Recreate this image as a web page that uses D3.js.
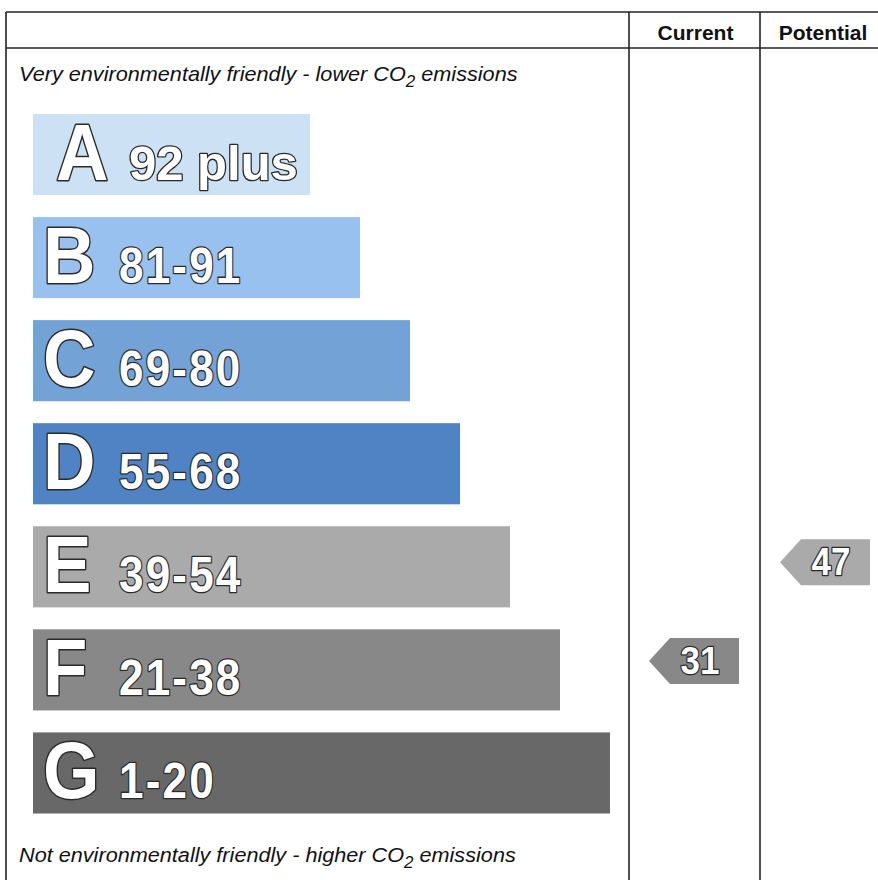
<!DOCTYPE html>
<html>
<head>
<meta charset="utf-8">
<script src="https://cdn.jsdelivr.net/npm/d3@7"></script>
<style>
  html, body { margin: 0; padding: 0; background: #fff; }
  svg { display: block; }
</style>
</head>
<body>
<svg id="chart" width="878" height="880"></svg>
<script>
// ---- data ----
const ratings = ["A", "B", "C", "D", "E", "F", "G"];
const rangeLabels = ["92 plus", "81-91", "69-80", "55-68", "39-54", "21-38", "1-20"];
const rangeLow = [92, 81, 69, 55, 39, 21, 1];
const rangeHigh = [100, 91, 80, 68, 54, 38, 20];
const bandColors = ["#cce1f4", "#99c1ef", "#72a2d6", "#4f83c3", "#aaaaaa", "#888888", "#686868"];
const columnHeaders = ["Current", "Potential"];
const scoreValues = [31, 47];
const topCaption = ["Very environmentally friendly - lower CO", "2", " emissions"];
const bottomCaption = ["Not environmentally friendly - higher CO", "2", " emissions"];

// ---- layout ----
const svg = d3.select("#chart");
const FONT = "'Liberation Sans', Arial, Helvetica, sans-serif";
const frame = { left: 6, top: 12, header: 48, colA: 629, colB: 760, colEnd: 891, bottom: 880 };

const y = d3.scaleBand().domain(ratings).range([114, 813.5]).paddingInner(0.213).paddingOuter(0);
const barRight = d3.scaleLinear().domain([0, ratings.length - 1]).range([310, 610]);
const barLeft = 33;

const bands = ratings.map((r, i) => ({
  rating: r, label: rangeLabels[i], lo: rangeLow[i], hi: rangeHigh[i], color: bandColors[i], i
}));

// ---- frame lines ----
const lineColor = "#222";
const lines = [
  [frame.left, frame.top, frame.colEnd, frame.top],
  [frame.left, frame.header, frame.colEnd, frame.header],
  [frame.left, frame.top, frame.left, frame.bottom],
  [frame.colA, frame.top, frame.colA, frame.bottom],
  [frame.colB, frame.top, frame.colB, frame.bottom],
  [frame.colEnd, frame.top, frame.colEnd, frame.bottom]
];
svg.append("g").selectAll("line").data(lines).join("line")
  .attr("x1", d => d[0]).attr("y1", d => d[1]).attr("x2", d => d[2]).attr("y2", d => d[3])
  .attr("stroke", lineColor).attr("stroke-width", 1.6);

// ---- headers ----
const colCenters = [(frame.colA + frame.colB) / 2, (frame.colB + frame.colEnd) / 2];
svg.append("g").selectAll("text").data(columnHeaders).join("text")
  .attr("x", (d, i) => colCenters[i] + (i === 0 ? 1 : -2.5))
  .attr("y", 40)
  .attr("text-anchor", "middle")
  .attr("font-family", FONT).attr("font-weight", "bold").attr("font-size", 21)
  .attr("fill", "#111")
  .text(d => d);

// ---- captions ----
function caption(parts, yy, targetW) {
  const g0 = svg.append("g");
  const t = g0.append("text").attr("x", 0).attr("y", 0)
    .attr("font-family", FONT).attr("font-style", "italic").attr("font-size", 20.5).attr("fill", "#111");
  t.append("tspan").text(parts[0]);
  t.append("tspan").attr("dy", 6).attr("font-size", 16).text(parts[1]);
  t.append("tspan").attr("dy", -6).text(parts[2]);
  const w = t.node().getBBox().width;
  g0.attr("transform", `translate(19,${yy}) scale(${targetW / w},1)`);
}
caption(topCaption, 81, 499);
caption(bottomCaption, 862, 497);

// ---- bars ----
const g = svg.append("g");
g.selectAll("rect").data(bands).join("rect")
  .attr("x", barLeft)
  .attr("y", d => y(d.rating))
  .attr("width", d => barRight(d.i) - barLeft)
  .attr("height", y.bandwidth())
  .attr("fill", d => d.color);

const outline = sel => sel.attr("fill", "#fff").attr("stroke", "#2a2a2a")
  .attr("paint-order", "stroke").attr("stroke-linejoin", "round")
  .attr("font-family", FONT).attr("font-weight", "bold");

g.selectAll("text.letter").data(bands).join("text").attr("class", "letter")
  .attr("transform", d => `translate(${d.i === 0 ? 56 : 43},${y(d.rating) + 66}) scale(0.92,1)`)
  .attr("font-size", 79)
  .call(outline).attr("stroke-width", 3)
  .text(d => d.rating);

g.selectAll("text.range").data(bands).join("text").attr("class", "range")
  .attr("transform", d => d.i === 0
    ? `translate(129,${y(d.rating) + 66})`
    : `translate(119,${y(d.rating) + 66}) scale(0.88,1)`)
  .attr("font-size", d => d.i === 0 ? 49 : 50)
  .attr("letter-spacing", d => d.i === 0 ? 0 : 2.5)
  .call(outline).attr("stroke-width", 2.6)
  .text(d => d.label);

// ---- score arrows ----
const arrowH = 46, arrowTip = 21, arrowW = 90;
function bandFor(v) { return bands.find(b => v >= b.lo && v <= b.hi); }
scoreValues.forEach((v, ci) => {
  const b = bandFor(v);
  const frac = (v + 0.5 - b.lo) / (b.hi - b.lo + 1);
  const cy = y(b.rating) + y.bandwidth() * (1 - frac) - 2;
  const left = (ci === 0 ? frame.colA : frame.colB) + 20;
  const right = left + arrowW;
  const pts = [[left, cy], [left + arrowTip, cy - arrowH / 2], [right, cy - arrowH / 2],
               [right, cy + arrowH / 2], [left + arrowTip, cy + arrowH / 2]];
  svg.append("path").attr("d", d3.line()(pts) + "Z").attr("fill", b.color);
  svg.append("text")
    .attr("transform", `translate(${right - 39},${cy + 12.5}) scale(0.92,1)`)
    .attr("text-anchor", "middle")
    .attr("font-size", 38)
    .call(outline).attr("stroke-width", 2.6)
    .text(v);
});
</script>
</body>
</html>
